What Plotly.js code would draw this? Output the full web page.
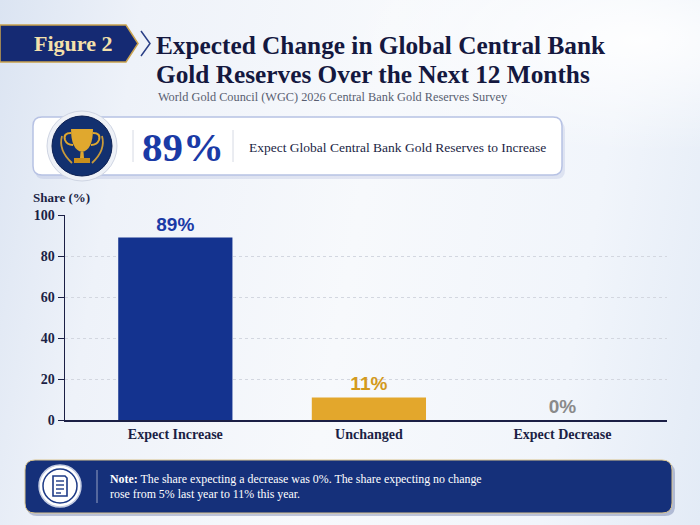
<!DOCTYPE html>
<html>
<head>
<meta charset="utf-8">
<script src="https://cdn.plot.ly/plotly-3.0.1.min.js"></script>
<style>
  html, body { margin: 0; padding: 0; }
  #chart {
    width: 700px; height: 525px;
    background:
      radial-gradient(ellipse 420px 160px at 640px 40px, rgba(255,255,255,0.9), rgba(255,255,255,0) 70%),
      linear-gradient(100deg, #dbe4f2 0%, #eef2f9 18%, #f7f9fc 50%, #f1f5fb 80%, #e3ebf6 100%);
  }
</style>
</head>
<body>
<div id="chart"></div>
<script>
// Figure 2 - expected change in central bank gold reserves
const categories = ['Expect Increase', 'Unchanged', 'Expect Decrease'];
const shares = [89, 11, 0];
const yTicks = [0, 20, 40, 60, 80, 100];

const barColors = ['#14338f', '#e3a72c', '#9a9a9a'];
const labelColors = ['#1a3aa6', '#d39a1c', '#8a8a8a'];

const W = 700, H = 525;
const M = { l: 65, r: 33, t: 215, b: 105 };
const serif = 'Liberation Serif, DejaVu Serif, serif';
const sans = 'Liberation Sans, Arial, sans-serif';
const navy = '#1b1f45';

// figure pixels -> paper coords (so decorations can sit outside the plot area)
const px = X => (X - M.l) / (W - M.l - M.r);
const py = Y => (H - M.b - Y) / (H - M.t - M.b);
const pt = (X, Y) => `${px(X)},${py(Y)}`;

function roundRect(x0, y0, x1, y1, r) {
    return `M${pt(x0 + r, y0)} L${pt(x1 - r, y0)} Q${pt(x1, y0)} ${pt(x1, y0 + r)} ` +
        `L${pt(x1, y1 - r)} Q${pt(x1, y1)} ${pt(x1 - r, y1)} L${pt(x0 + r, y1)} ` +
        `Q${pt(x0, y1)} ${pt(x0, y1 - r)} L${pt(x0, y0 + r)} Q${pt(x0, y0)} ${pt(x0 + r, y0)} Z`;
}

function pshape(extra) {
    return Object.assign({ xref: 'paper', yref: 'paper', layer: 'above' }, extra);
}
function circle(cx, cy, r, fill, line, lw) {
    return pshape({ type: 'circle', x0: px(cx - r), x1: px(cx + r), y0: py(cy + r), y1: py(cy - r),
        fillcolor: fill, line: { color: line || 'rgba(0,0,0,0)', width: lw || 0 } });
}
function path(d, fill, line, lw) {
    return pshape({ type: 'path', path: d, fillcolor: fill || 'rgba(0,0,0,0)',
        line: { color: line || 'rgba(0,0,0,0)', width: lw || 0 } });
}
function seg(x0, y0, x1, y1, color, w) {
    return pshape({ type: 'line', x0: px(x0), y0: py(y0), x1: px(x1), y1: py(y1), line: { color: color, width: w } });
}
function label(text, X, Y, size, color, opts) {
    return Object.assign({ text: text, x: px(X), y: py(Y), xref: 'paper', yref: 'paper', showarrow: false,
        xanchor: 'left', yanchor: 'middle', font: { family: serif, size: size, color: color } }, opts || {});
}
function bold(size, color) {
    return { family: serif, size: size, color: color, weight: 'bold' };
}

const gold = '#e0a82e';
const shapes = [
    // figure badge
    path(`M${pt(0, 25)} L${pt(126, 25)} L${pt(138, 43.5)} L${pt(126, 62)} L${pt(0, 62)} Z`, '#152a73', '#c9a24e', 1.5),
    path(`M${pt(141, 31)} L${pt(150, 43.5)} L${pt(141, 56)}`, null, '#2a3f86', 1.5),
    // callout shadow + box
    path(roundRect(35, 121, 565, 179, 9), 'rgba(70,90,170,0.12)'),
    path(roundRect(33, 117, 562, 175, 9), '#ffffff', '#b7c2e4', 1.5),
    seg(133, 130, 133, 162, '#d6dae4', 1),
    seg(233, 130, 233, 162, '#d6dae4', 1),
    // trophy medallion
    circle(82, 146, 35, '#eef1f7', '#cfd5e3', 1),
    circle(82, 146, 30, '#12306f', '#0b1f52', 1),
    path(`M${pt(71, 129)} L${pt(93, 129)} Q${pt(93, 150)} ${pt(82, 152)} Q${pt(71, 150)} ${pt(71, 129)} Z`, gold),
    path(`M${pt(71, 133)} Q${pt(63, 133)} ${pt(65, 140)} Q${pt(67, 145)} ${pt(73, 145)}`, null, gold, 2),
    path(`M${pt(93, 133)} Q${pt(101, 133)} ${pt(99, 140)} Q${pt(97, 145)} ${pt(91, 145)}`, null, gold, 2),
    path(`M${pt(80.5, 152)} L${pt(83.5, 152)} L${pt(84, 158)} L${pt(80, 158)} Z`, gold),
    path(`M${pt(74, 158)} L${pt(90, 158)} L${pt(90, 163)} L${pt(74, 163)} Z`, '#c98f1c'),
    path(`M${pt(62, 136)} Q${pt(58, 150)} ${pt(72, 163)}`, null, '#c99a3a', 1.8),
    path(`M${pt(102, 136)} Q${pt(106, 150)} ${pt(92, 163)}`, null, '#c99a3a', 1.8),
    // note box
    path(roundRect(27, 463, 675, 516, 10), 'rgba(20,40,110,0.25)'),
    path(roundRect(25, 460, 672, 513, 10), '#15307a', '#d9c38c', 1),
    seg(97, 470, 97, 503, 'rgba(255,255,255,0.55)', 1),
    circle(60, 486, 21, '#ffffff', '#c3cbe2', 1.5),
    circle(60, 486, 17, '#ffffff', '#1d3a86', 1.5),
    path(`M${pt(53, 476)} L${pt(65, 476)} L${pt(67, 478)} L${pt(67, 496)} L${pt(53, 496)} Z`, '#ffffff', '#1d3a86', 1.6),
    seg(56, 481, 64, 481, '#1d3a86', 1.4),
    seg(56, 485, 64, 485, '#1d3a86', 1.4),
    seg(56, 489, 64, 489, '#1d3a86', 1.4),
    seg(56, 493, 61, 493, '#1d3a86', 1.4)
];

const annotations = [
    label('Figure 2', 73, 43.5, 21, '#f2dca4', { xanchor: 'center', font: bold(22, '#f4e0ab') }),
    label('Expected Change in Global Central Bank', 154, 45, 25, '#14183f', { font: bold(25.3, '#14183f') }),
    label('Gold Reserves Over the Next 12 Months', 154, 74, 25, '#14183f', { font: bold(25.3, '#14183f') }),
    label('World Gold Council (WGC) 2026 Central Bank Gold Reserves Survey', 156, 97, 12.3, '#585e70'),
    label('89%', 183, 147, 40, '#1a3aa6', { xanchor: 'center', font: bold(41, '#1a3aa6') }),
    label('Expect Global Central Bank Gold Reserves to Increase', 247, 147, 13.5, navy),
    label('Share (%)', 31, 197, 13, navy, { font: bold(13, navy) }),
    label('<b>Note:</b> The share expecting a decrease was 0%. The share expecting no change<br>rose from 5% last year to 11% this year.',
        108, 486, 11.9, '#ffffff', { align: 'left' })
];

const trace = {
    type: 'bar',
    x: categories,
    y: shares,
    width: 0.59,
    marker: { color: barColors, line: { width: 0 } },
    text: shares.map(v => v + '%'),
    textposition: 'outside',
    cliponaxis: false,
    textfont: { family: sans, size: 19, color: labelColors, weight: 'bold' },
    hoverinfo: 'skip'
};

const layout = {
    width: W, height: H,
    margin: M,
    paper_bgcolor: 'rgba(0,0,0,0)',
    plot_bgcolor: 'rgba(0,0,0,0)',
    showlegend: false,
    bargap: 0.4,
    xaxis: {
        range: [-0.57, 2.54],
        showline: true, linecolor: navy, linewidth: 2,
        showgrid: false, zeroline: false, ticks: '',
        tickfont: { family: serif, size: 14, color: navy, weight: 'bold' }
    },
    yaxis: {
        range: [0, 100],
        tickvals: yTicks,
        showline: true, linecolor: navy, linewidth: 1.5,
        ticks: 'outside', ticklen: 6, tickcolor: navy,
        showgrid: true, gridcolor: '#d3d7e0', griddash: 'dot', gridwidth: 1,
        zeroline: false,
        tickfont: { family: serif, size: 14, color: navy, weight: 'bold' }
    },
    shapes: shapes,
    annotations: annotations
};

Plotly.newPlot('chart', [trace], layout, { displayModeBar: false, staticPlot: true });
</script>
</body>
</html>
